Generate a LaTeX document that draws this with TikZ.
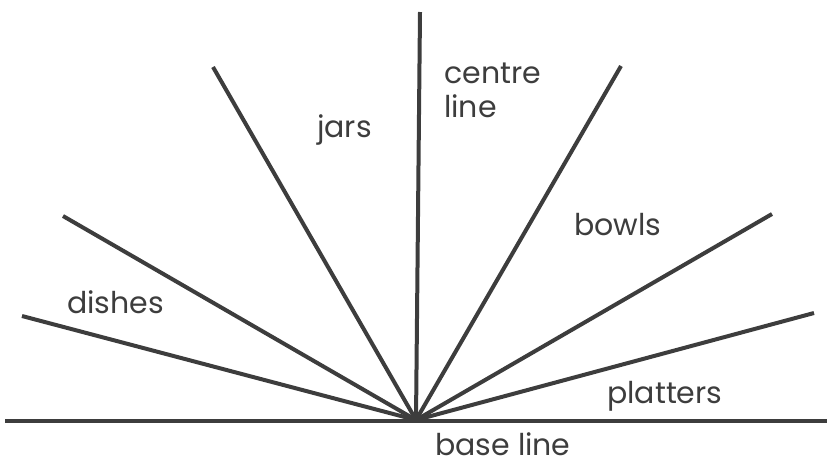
\documentclass[tikz,border=0pt]{standalone}
\usepackage{fontspec}
\setmainfont{Poppins}
\begin{document}
\begin{tikzpicture}[x=1pt,y=-1pt,
  ray/.style={line width=4pt,draw=black!76},
  lbl/.style={anchor=base west,inner sep=0pt,text=black!76,font=\fontsize{30}{34}\selectfont}]
\useasboundingbox (0,0) rectangle (827,464);
\coordinate (o) at (416,420);
\coordinate (bl) at (5,421);
\coordinate (br) at (827,421);
\coordinate (v) at (420,12);
\coordinate (j) at (213,67);
\coordinate (b) at (621,66);
\coordinate (ul) at (63,216);
\coordinate (ll) at (22,316);
\coordinate (ur) at (772,214);
\coordinate (lr) at (814,313);
\draw[ray,line width=4.5pt] (bl) -- (br);
\foreach \p in {v,j,b,ul,ll,ur,lr} \draw[ray] (o) -- (\p);
\node[lbl] (tc) at (444,83) {centre};
\node[lbl] (tl) at (444,117) {line};
\node[lbl] (tj) at (317,137) {jars};
\node[lbl] (tb) at (574,235) {bowls};
\node[lbl] (td) at (67,313) {dishes};
\node[lbl] (tp) at (607,403) {platters};
\node[lbl] (tbl) at (435,455) {base line};
\end{tikzpicture}
\end{document}
